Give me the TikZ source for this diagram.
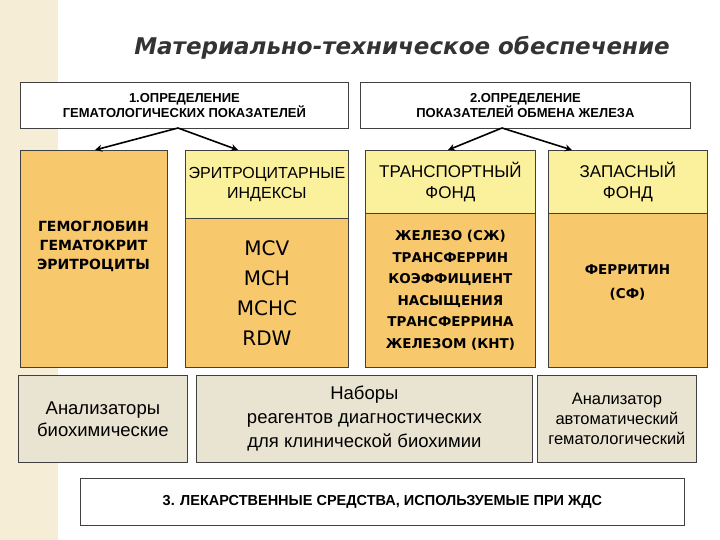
\documentclass[tikz,border=0pt]{standalone}
\usepackage{fontspec}
\setmainfont{Liberation Sans}
\newfontfamily\dv{DejaVu Sans}
\usetikzlibrary{arrows.meta}
\definecolor{orng}{HTML}{F8C86C}
\definecolor{lyel}{HTML}{FBF19C}
\definecolor{gbox}{HTML}{E9E3D1}
\definecolor{strip}{HTML}{F5EDD6}
\definecolor{titc}{HTML}{333333}
\tikzset{
 box/.style={draw=black!75, line width=0.8pt, anchor=north west, inner sep=0pt, align=center},
 arr/.style={line width=1.6pt, -{Stealth[length=7pt,width=7pt]}},
}
\newcommand{\bx}[8]{\node[box,fill=#6,minimum width=#4-#2,minimum height=#5-#3,font=#7] (#1) at (#2,#3) {#8};}
\begin{document}
\begin{tikzpicture}[x=1pt,y=-1pt]
\useasboundingbox (0,0) rectangle (720,540);
\fill[white] (0,0) rectangle (720,540);
\fill[strip] (0,0) rectangle (58,540);
\node[font=\dv\fontsize{23}{27}\selectfont\bfseries\itshape, text=titc] (title) at (402,48) {Материально-техническое обеспечение};
\bx{b1}{20}{82}{348}{128}{white}{\fontsize{13}{15}\selectfont\bfseries}{1.ОПРЕДЕЛЕНИЕ\\ГЕМАТОЛОГИЧЕСКИХ ПОКАЗАТЕЛЕЙ}
\bx{b2}{360}{82}{690}{128}{white}{\fontsize{13}{15}\selectfont\bfseries}{2.ОПРЕДЕЛЕНИЕ\\ПОКАЗАТЕЛЕЙ ОБМЕНА ЖЕЛЕЗА}
% columns
\bx{c1}{20}{150}{167}{367}{orng}{}{}
\node[font=\dv\fontsize{14}{19}\selectfont\bfseries, align=center] (t1) at (93.5,246) {ГЕМОГЛОБИН\\ГЕМАТОКРИТ\\ЭРИТРОЦИТЫ};
\bx{c2h}{185}{150}{348}{218}{lyel}{\fontsize{16}{20}\selectfont}{ЭРИТРОЦИТАРНЫЕ\\ИНДЕКСЫ}
\bx{c2}{185}{218}{348}{367}{orng}{\dv\fontsize{20}{30}\selectfont}{MCV\\MCH\\MCHC\\RDW}
\bx{c3h}{365}{150}{535}{213}{lyel}{\fontsize{17}{21}\selectfont}{ТРАНСПОРТНЫЙ\\ФОНД}
\bx{c3}{365}{213}{535}{367}{orng}{\dv\fontsize{13.5}{21.5}\selectfont\bfseries}{ЖЕЛЕЗО (СЖ)\\ТРАНСФЕРРИН\\КОЭФФИЦИЕНТ\\НАСЫЩЕНИЯ\\ТРАНСФЕРРИНА\\ЖЕЛЕЗОМ (КНТ)}
\bx{c4h}{548}{150}{707}{213}{lyel}{\fontsize{17}{21}\selectfont}{ЗАПАСНЫЙ\\ФОНД}
\bx{c4}{548}{213}{707}{367}{orng}{}{}
\node[font=\dv\fontsize{13.5}{24}\selectfont\bfseries, align=center] (t4) at (627.5,282) {ФЕРРИТИН\\(СФ)};
% arrows
\coordinate (s1) at (178,128);
\coordinate (s2) at (502,128);
\draw[arr] (s1) -- (95,150);
\draw[arr] (s1) -- (238,150);
\draw[arr] (s2) -- (448,150);
\draw[arr] (s2) -- (572,150);
% bottom row
\bx{d1}{18}{375}{187}{462}{gbox}{\fontsize{18.5}{22}\selectfont}{Анализаторы\\биохимические}
\bx{d2}{196}{375}{532}{462}{gbox}{\fontsize{18.5}{24}\selectfont}{Наборы\\реагентов диагностических\\для клинической биохимии}
\bx{d3}{537}{375}{696}{462}{gbox}{\fontsize{16.5}{20}\selectfont}{Анализатор\\автоматический\\гематологический}
\bx{e}{80}{478}{684}{525}{white}{\fontsize{14.5}{17}\selectfont\bfseries}{3. ЛЕКАРСТВЕННЫЕ СРЕДСТВА, ИСПОЛЬЗУЕМЫЕ ПРИ ЖДС}
\end{tikzpicture}
\end{document}
